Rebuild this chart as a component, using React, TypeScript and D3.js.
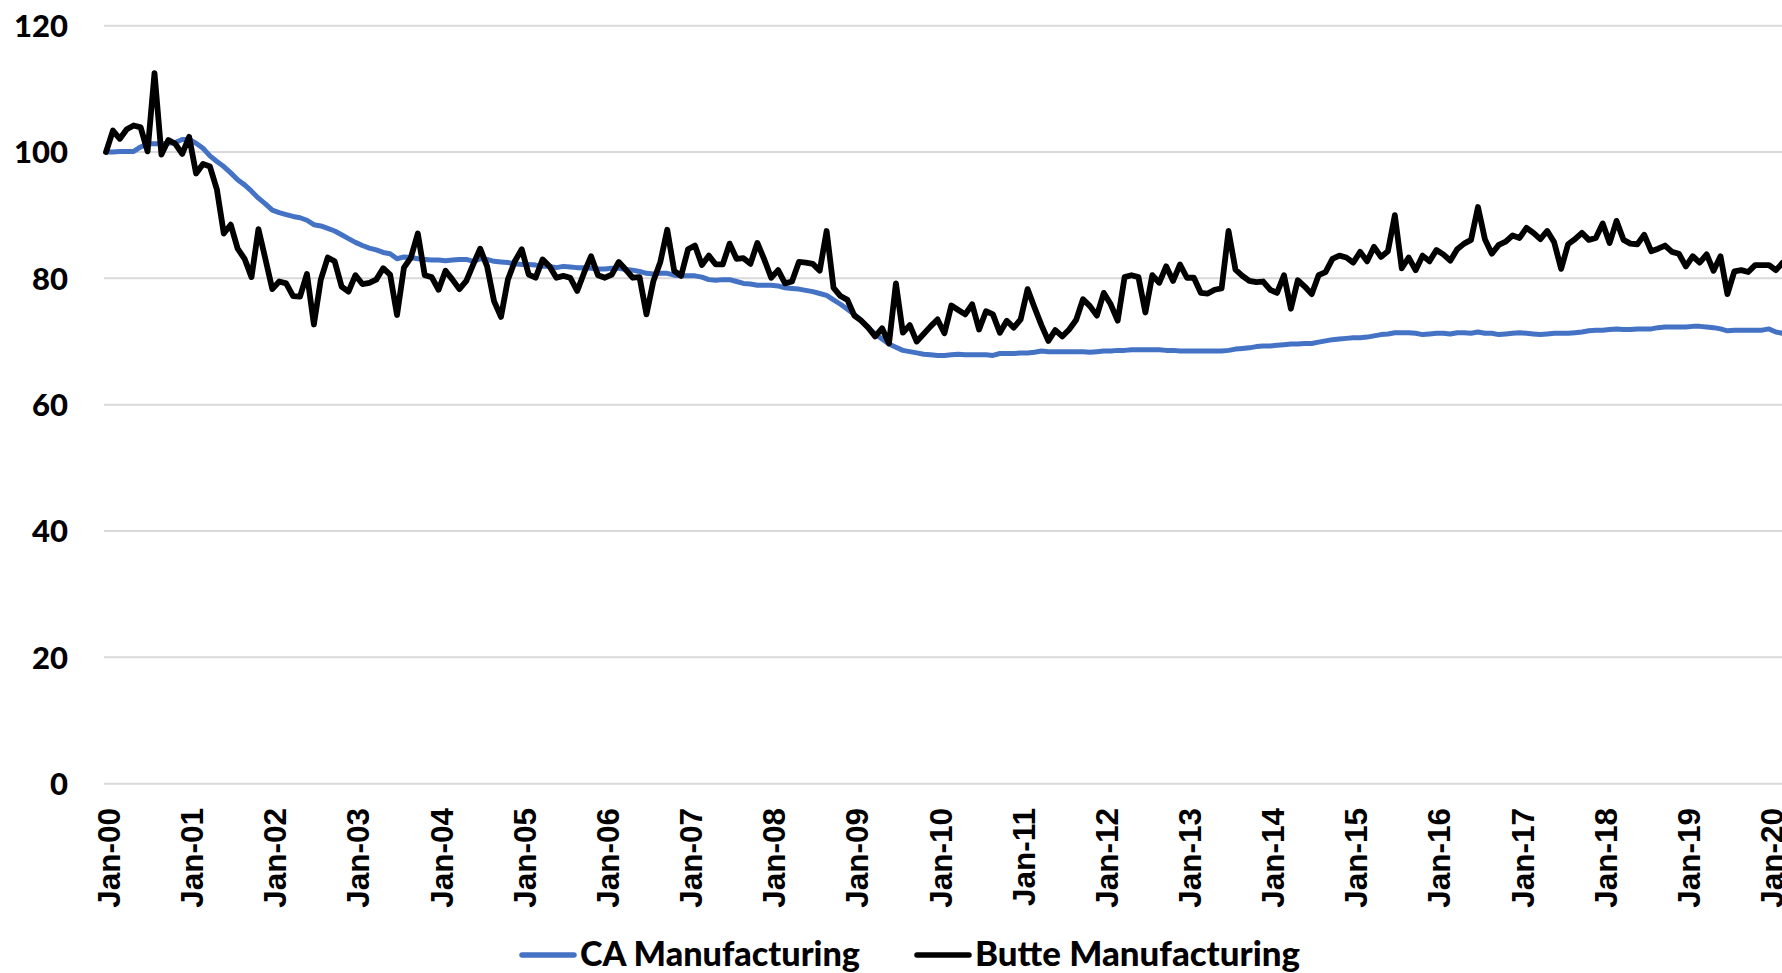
import React, { useRef, useEffect } from "react";
import * as d3 from "d3";

// monthly index values, Jan-00 = 100
const caManufacturing = [
  100.0, 100.0, 100.1, 100.1, 100.1, 100.8, 101.3, 101.3, 101.3, 101.4, 101.5, 102.0,
  102.0, 101.4, 100.6, 99.4, 98.5, 97.7, 96.7, 95.6, 94.8, 93.8, 92.7, 91.8,
  90.8, 90.4, 90.1, 89.8, 89.6, 89.2, 88.5, 88.3, 87.9, 87.5, 86.9, 86.3,
  85.7, 85.2, 84.8, 84.5, 84.1, 83.9, 83.1, 83.4, 83.3, 83.1, 83.0, 82.9,
  82.9, 82.8, 82.9, 83.0, 83.0, 82.7, 83.1, 83.0, 82.7, 82.6, 82.5, 82.3,
  82.2, 82.2, 82.1, 81.9, 81.9, 81.7, 81.9, 81.8, 81.7, 81.7, 81.6, 81.5,
  81.5, 81.6, 81.6, 81.4, 81.3, 81.1, 80.8, 80.7, 80.8, 80.8, 80.5, 80.4,
  80.4, 80.4, 80.2, 79.8, 79.7, 79.8, 79.8, 79.5, 79.2, 79.1, 78.9, 78.9,
  78.9, 78.8, 78.5, 78.4, 78.3, 78.1, 77.9, 77.6, 77.3, 76.6, 75.9, 75.1,
  74.3, 73.3, 72.2, 71.2, 70.4, 69.6, 69.1, 68.6, 68.4, 68.2, 68.0, 67.9,
  67.8, 67.8, 67.9, 68.0, 67.9, 67.9, 67.9, 67.9, 67.8, 68.1, 68.1, 68.1,
  68.2, 68.2, 68.3, 68.5, 68.4, 68.4, 68.4, 68.4, 68.4, 68.4, 68.3, 68.4,
  68.5, 68.5, 68.6, 68.6, 68.7, 68.7, 68.7, 68.7, 68.7, 68.6, 68.6, 68.5,
  68.5, 68.5, 68.5, 68.5, 68.5, 68.5, 68.6, 68.8, 68.9, 69.0, 69.2, 69.3,
  69.3, 69.4, 69.5, 69.6, 69.6, 69.7, 69.7, 69.9, 70.1, 70.3, 70.4, 70.5,
  70.6, 70.6, 70.7, 70.9, 71.1, 71.2, 71.4, 71.4, 71.4, 71.3, 71.1, 71.2,
  71.3, 71.3, 71.2, 71.4, 71.4, 71.3, 71.5, 71.3, 71.3, 71.1, 71.2, 71.3,
  71.4, 71.3, 71.2, 71.1, 71.2, 71.3, 71.3, 71.3, 71.4, 71.5, 71.7, 71.8,
  71.8, 71.9, 72.0, 71.9, 71.9, 72.0, 72.0, 72.0, 72.2, 72.3, 72.3, 72.3,
  72.3, 72.4, 72.4, 72.3, 72.2, 72.0, 71.7, 71.8, 71.8, 71.8, 71.8, 71.8,
  72.0, 71.5, 71.3,
];

const butteManufacturing = [
  100.0, 103.4, 102.1, 103.6, 104.2, 103.9, 100.1, 112.5, 99.6, 101.9, 101.3, 99.7,
  102.4, 96.6, 98.1, 97.7, 94.1, 87.1, 88.5, 84.7, 83.1, 80.2, 87.8, 83.1,
  78.3, 79.5, 79.2, 77.2, 77.1, 80.7, 72.7, 79.8, 83.3, 82.7, 78.7, 77.9,
  80.5, 79.1, 79.3, 79.8, 81.6, 80.6, 74.2, 81.7, 83.3, 87.1, 80.5, 80.2,
  78.2, 81.2, 79.8, 78.3, 79.6, 82.2, 84.7, 81.9, 76.4, 73.9, 79.8, 82.7,
  84.6, 80.6, 80.1, 83.0, 81.9, 80.1, 80.4, 80.1, 78.0, 80.9, 83.5, 80.5,
  80.1, 80.6, 82.6, 81.4, 80.1, 80.2, 74.3, 79.6, 82.6, 87.7, 81.2, 80.4,
  84.6, 85.2, 82.1, 83.6, 82.2, 82.2, 85.5, 83.1, 83.2, 82.3, 85.6, 83.0,
  80.1, 81.3, 79.2, 79.5, 82.6, 82.5, 82.3, 81.2, 87.5, 78.5, 77.2, 76.6,
  74.1, 73.3, 72.2, 70.8, 72.1, 69.7, 79.2, 71.4, 72.6, 70.0, 71.2, 72.4,
  73.5, 71.3, 75.7, 75.0, 74.3, 75.9, 71.9, 74.8, 74.3, 71.4, 73.3, 72.2,
  73.5, 78.3, 75.4, 72.6, 70.1, 71.8, 70.8, 71.9, 73.4, 76.7, 75.6, 74.1,
  77.7, 75.9, 73.3, 80.2, 80.5, 80.2, 74.6, 80.5, 79.3, 81.9, 79.6, 82.2,
  80.1, 80.1, 77.7, 77.6, 78.2, 78.4, 87.5, 81.4, 80.4, 79.6, 79.4, 79.5,
  78.2, 77.7, 80.5, 75.2, 79.7, 78.7, 77.5, 80.5, 81.0, 83.1, 83.6, 83.3,
  82.5, 84.2, 82.7, 85.0, 83.4, 84.3, 90.0, 81.6, 83.3, 81.3, 83.6, 82.7,
  84.5, 83.8, 82.8, 84.6, 85.5, 86.1, 91.3, 86.2, 83.9, 85.3, 85.8, 86.8,
  86.4, 88.0, 87.2, 86.2, 87.5, 85.7, 81.5, 85.4, 86.2, 87.2, 86.1, 86.4,
  88.7, 85.6, 89.1, 86.1, 85.5, 85.4, 86.9, 84.3, 84.7, 85.2, 84.2, 83.9,
  81.9, 83.5, 82.5, 83.8, 81.2, 83.5, 77.5, 81.1, 81.3, 81.0, 82.1, 82.1,
  82.1, 81.3, 82.5,
];

const xTickLabels = [
  "Jan-00", "Jan-01", "Jan-02", "Jan-03", "Jan-04", "Jan-05", "Jan-06",
  "Jan-07", "Jan-08", "Jan-09", "Jan-10", "Jan-11", "Jan-12", "Jan-13",
  "Jan-14", "Jan-15", "Jan-16", "Jan-17", "Jan-18", "Jan-19", "Jan-20",
];

const yTicks = [0, 20, 40, 60, 80, 100, 120];

const seriesNames = ["CA Manufacturing", "Butte Manufacturing"];
const seriesColors = ["#4472C4", "#000000"];

const App = () => {
  const svgRef = useRef(null);

  useEffect(() => {
    const width = 1782;
    const height = 973;

    const svg = d3.select(svgRef.current);
    svg.selectAll("*").remove();
    svg.attr("width", width).attr("height", height);

    // months since Jan-00 on x
    const x = d3.scaleLinear().domain([0, 240]).range([106, 1769]);
    const y = d3.scaleLinear().domain([0, 120]).range([783.7, 25.7]);

    // gridlines
    svg
      .append("g")
      .selectAll("line")
      .data(yTicks)
      .enter()
      .append("line")
      .attr("x1", 104)
      .attr("x2", width)
      .attr("y1", (d) => y(d))
      .attr("y2", (d) => y(d))
      .attr("stroke", "#D9D9D9")
      .attr("stroke-width", 2);

    // y labels
    svg
      .append("g")
      .selectAll("text")
      .data(yTicks)
      .enter()
      .append("text")
      .attr("x", 68)
      .attr("y", (d) => y(d))
      .attr("dy", "0.36em")
      .attr("text-anchor", "end")
      .style("font-family", "Lato, 'Noto Sans', sans-serif")
      .style("font-weight", "900")
      .style("font-size", "31px")
      .attr("fill", "#000")
      .text((d) => d);

    // x labels, rotated
    svg
      .append("g")
      .selectAll("text")
      .data(xTickLabels)
      .enter()
      .append("text")
      .attr("transform", (d, i) => `translate(${x(i * 12)}, 808) rotate(-90)`)
      .attr("dy", 14)
      .attr("text-anchor", "end")
      .style("font-family", "'Liberation Sans', Arial, sans-serif")
      .style("font-weight", "bold")
      .style("font-size", "31.5px")
      .attr("fill", "#000")
      .text((d) => d);

    const line = d3
      .line()
      .x((d, i) => x(i))
      .y((d) => y(d));

    const drawSeries = (values, color, w) => {
      svg
        .append("path")
        .datum(values)
        .attr("d", line)
        .attr("fill", "none")
        .attr("stroke", color)
        .attr("stroke-width", w)
        .attr("stroke-linejoin", "round")
        .attr("stroke-linecap", "round");
    };

    drawSeries(caManufacturing, seriesColors[0], 5);
    drawSeries(butteManufacturing, seriesColors[1], 5.8);

    // legend
    const legendItems = [
      { name: seriesNames[0], color: seriesColors[0], x0: 522, textLen: 280 },
      { name: seriesNames[1], color: seriesColors[1], x0: 917, textLen: 325 },
    ];
    const legend = svg.append("g");
    legendItems.forEach((item) => {
      legend
        .append("line")
        .attr("x1", item.x0)
        .attr("x2", item.x0 + 52)
        .attr("y1", 955)
        .attr("y2", 955)
        .attr("stroke", item.color)
        .attr("stroke-width", 5.5)
        .attr("stroke-linecap", "round");
      legend
        .append("text")
        .attr("x", item.x0 + 58)
        .attr("y", 966)
        .attr("textLength", item.textLen)
        .attr("lengthAdjust", "spacingAndGlyphs")
        .style("font-family", "Lato, 'Noto Sans', sans-serif")
        .style("font-weight", "900")
        .style("font-size", "34px")
        .attr("fill", "#000")
        .text(item.name);
    });
  }, []);

  return (
    <svg
      ref={svgRef}
      style={{ position: "absolute", left: 0, top: 0, background: "#fff" }}
    ></svg>
  );
};

export default App;
